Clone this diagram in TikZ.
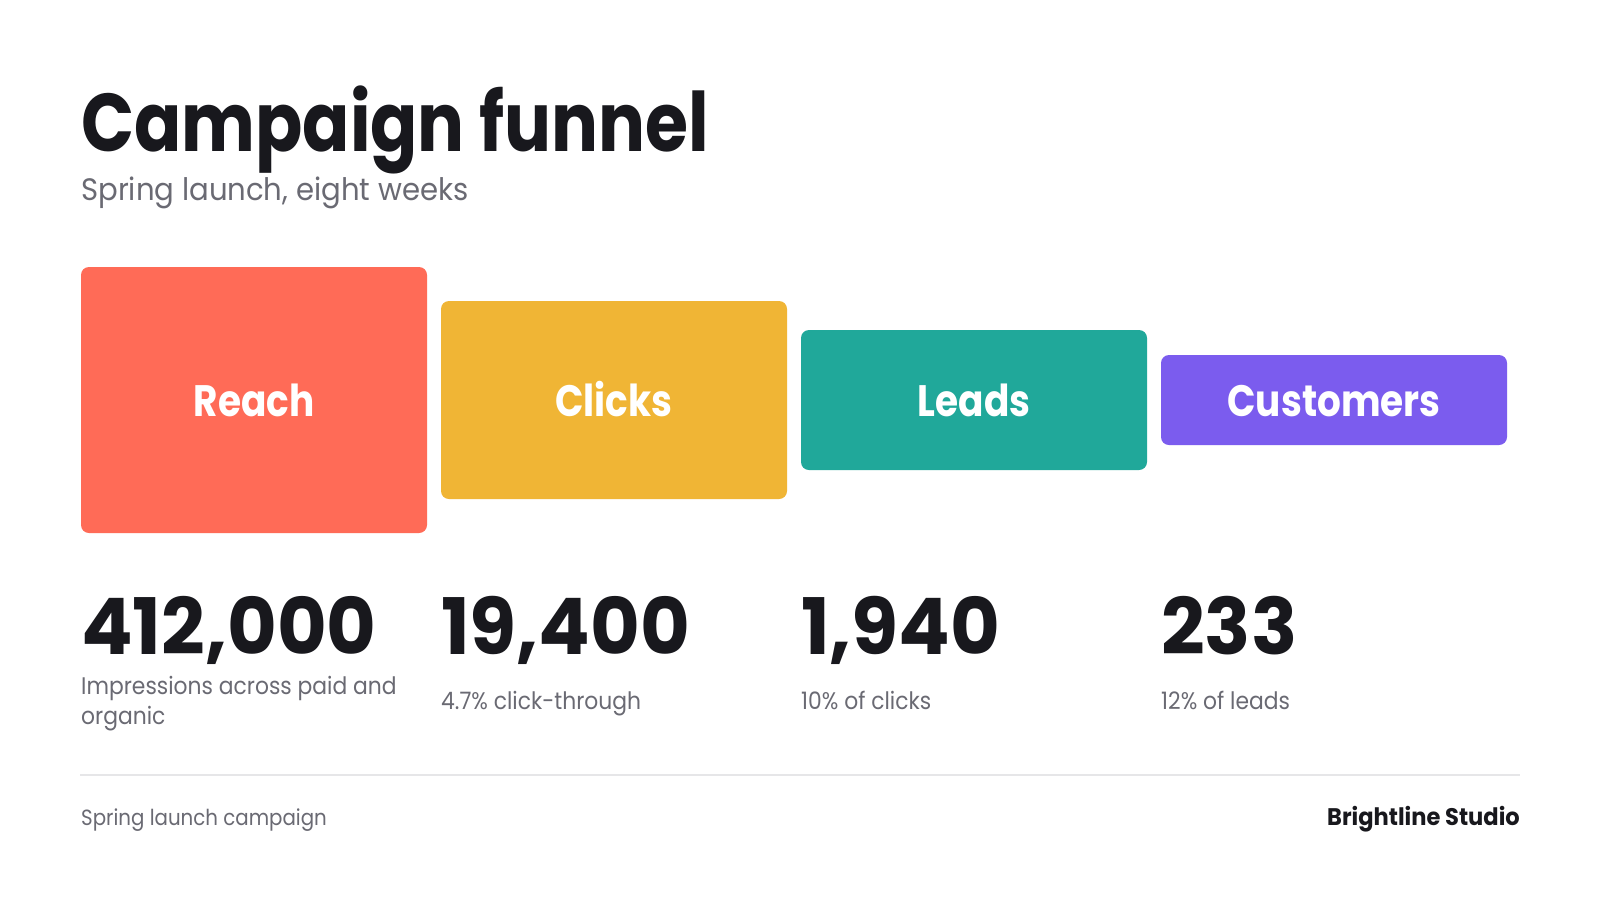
\documentclass[tikz,border=0pt]{standalone}
\usepackage{fontspec}
\setmainfont{Poppins}[FakeStretch=0.88]
\newfontfamily\titlefam{Poppins}[FakeStretch=0.85]
\newfontfamily\subfam{Poppins}[FakeStretch=0.94]
\newfontfamily\labelfam{Poppins}[FakeStretch=0.85]
\newfontfamily\numfam{Poppins}[FakeStretch=0.98]
\newfontfamily\descfam{Poppins}[FakeStretch=0.91]
\newfontfamily\footfam{Poppins}[FakeStretch=0.90]
\newfontfamily\brandfam{Poppins}[FakeStretch=0.94]
\definecolor{ink}{HTML}{18181D}
\definecolor{muted}{HTML}{6A6A73}
\definecolor{rulec}{HTML}{E6E6E8}
\definecolor{coral}{HTML}{FF6B57}
\definecolor{amber}{HTML}{F0B535}
\definecolor{teal}{HTML}{20A89A}
\definecolor{violet}{HTML}{7B5CEE}
\begin{document}
\begin{tikzpicture}[x=1pt,y=-1pt,
  txt/.style={inner sep=0pt, anchor=base west},
  stage/.style={rectangle, rounded corners=8pt, inner sep=0pt, minimum width=346pt,
    text=white, text height=32pt, text depth=0pt,
    font=\labelfam\bfseries\fontsize{44}{44}\selectfont},
  bignum/.style={txt, text=ink, font=\numfam\bfseries\fontsize{78}{78}\selectfont},
  desc/.style={txt, text=muted, font=\descfam\fontsize{24}{24}\selectfont}]
\useasboundingbox[fill=white] (0,0) rectangle (1600,900);

% header
\node[txt, text=ink, font=\titlefam\bfseries\fontsize{82}{82}\selectfont] (title) at (81,151) {Campaign funnel};
\node[txt, text=muted, font=\subfam\fontsize{31}{31}\selectfont] (subtitle) at (81,200) {Spring launch, eight weeks};

% funnel stages
\node[stage, fill=coral, minimum height=266pt] (reach) at (254,400) {Reach};
\node[stage, fill=amber, minimum height=198pt] (clicks) at (614,400) {Clicks};
\node[stage, fill=teal, minimum height=140pt] (leads) at (974,400) {Leads};
\node[stage, fill=violet, minimum height=90pt] (customers) at (1334,400) {Customers};

% numbers
\node[bignum] (n1) at (81,654) {412,000};
\node[bignum] (n2) at (441,654) {19,400};
\node[bignum] (n3) at (801,654) {1,940};
\node[bignum] (n4) at (1161,654) {233};

% descriptions
\node[desc] (d1a) at (81,694) {Impressions across paid and};
\node[desc] (d1b) at (81,724) {organic};
\node[desc] (d2) at (441,709) {4.7\% click-through};
\node[desc] (d3) at (801,709) {10\% of clicks};
\node[desc] (d4) at (1161,709) {12\% of leads};

% footer
\coordinate (ruleL) at (80,775);
\coordinate (ruleR) at (1520,775);
\draw[rulec, line width=2pt] (ruleL) -- (ruleR);
\node[txt, text=muted, font=\footfam\fontsize{22}{22}\selectfont] (footl) at (81,825) {Spring launch campaign};
\node[inner sep=0pt, anchor=base east, text=ink, font=\brandfam\bfseries\fontsize{24}{24}\selectfont] (footr) at (1520,825) {Brightline Studio};
\end{tikzpicture}
\end{document}
